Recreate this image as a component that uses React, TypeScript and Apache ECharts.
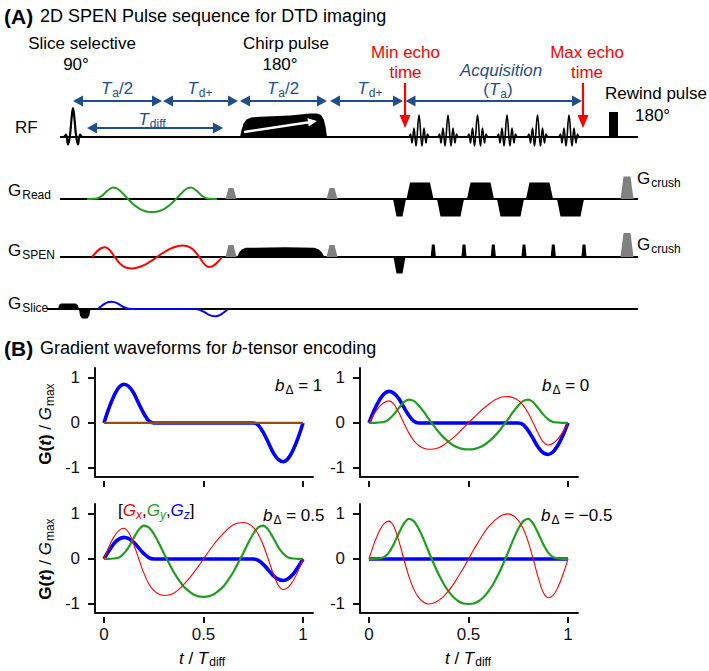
import { useEffect, useRef } from 'react';
import * as echarts from 'echarts';

const FONT = '"Liberation Sans", Arial, Helvetica, sans-serif';
const NAVY = '#1f4e8c';
const RED = '#ff0000';
const GREEN = '#1f9e1f';
const BLUE = '#0000ff';
const GRAY = '#808080';

// ---------- Part B data: t / T_diff and gradient waveforms ----------
const T = [0, 0.025, 0.05, 0.075, 0.1, 0.125, 0.15, 0.175, 0.2, 0.225, 0.25, 0.275, 0.3, 0.325, 0.35, 0.375, 0.4, 0.425, 0.45, 0.475, 0.5, 0.525, 0.55, 0.575, 0.6, 0.625, 0.65, 0.675, 0.7, 0.725, 0.75, 0.775, 0.8, 0.825, 0.85, 0.875, 0.9, 0.925, 0.95, 0.975, 1];

// b_delta = 1
const gxB1 = [0, 0, 0, 0, 0, 0, 0, 0, 0, 0, 0, 0, 0, 0, 0, 0, 0, 0, 0, 0, 0, 0, 0, 0, 0, 0, 0, 0, 0, 0, 0, 0, 0, 0, 0, 0, 0, 0, 0, 0, 0];
const gyB1 = [0, 0, 0, 0, 0, 0, 0, 0, 0, 0, 0, 0, 0, 0, 0, 0, 0, 0, 0, 0, 0, 0, 0, 0, 0, 0, 0, 0, 0, 0, 0, 0, 0, 0, 0, 0, 0, 0, 0, 0, 0];
const gzB1 = [0, 0.33, 0.6, 0.79, 0.86, 0.81, 0.66, 0.43, 0.21, 0.05, 0, 0, 0, 0, 0, 0, 0, 0, 0, 0, 0, 0, 0, 0, 0, 0, 0, 0, 0, 0, 0, -0.05, -0.21, -0.43, -0.66, -0.81, -0.86, -0.79, -0.6, -0.33, 0];

// b_delta = 0
const gxB0 = [0, 0.19, 0.35, 0.45, 0.49, 0.42, 0.23, 0, -0.22, -0.39, -0.5, -0.56, -0.585, -0.58, -0.55, -0.49, -0.41, -0.32, -0.22, -0.11, 0, 0.11, 0.22, 0.32, 0.41, 0.49, 0.55, 0.58, 0.585, 0.56, 0.5, 0.39, 0.22, 0, -0.23, -0.42, -0.49, -0.45, -0.35, -0.19, 0];
const gyB0 = [0, 0, 0.01, 0.02, 0.08, 0.19, 0.33, 0.46, 0.52, 0.49, 0.39, 0.25, 0.09, -0.06, -0.2, -0.32, -0.42, -0.5, -0.55, -0.58, -0.585, -0.58, -0.55, -0.5, -0.42, -0.32, -0.2, -0.06, 0.09, 0.25, 0.39, 0.49, 0.52, 0.46, 0.33, 0.19, 0.08, 0.02, 0.01, 0, 0];
const gzB0 = [0, 0.27, 0.49, 0.64, 0.7, 0.66, 0.54, 0.35, 0.17, 0.04, 0, 0, 0, 0, 0, 0, 0, 0, 0, 0, 0, 0, 0, 0, 0, 0, 0, 0, 0, 0, 0, -0.04, -0.17, -0.35, -0.54, -0.66, -0.7, -0.64, -0.49, -0.27, 0];

// b_delta = 0.5
const gxB05 = [0, 0.27, 0.49, 0.63, 0.68, 0.58, 0.32, 0, -0.31, -0.55, -0.7, -0.78, -0.81, -0.8, -0.76, -0.68, -0.57, -0.45, -0.31, -0.16, 0, 0.16, 0.31, 0.45, 0.57, 0.68, 0.76, 0.8, 0.81, 0.78, 0.7, 0.55, 0.31, 0, -0.32, -0.58, -0.68, -0.63, -0.49, -0.27, 0];
const gyB05 = [0, 0, 0.01, 0.03, 0.12, 0.27, 0.47, 0.65, 0.74, 0.7, 0.56, 0.36, 0.13, -0.08, -0.29, -0.46, -0.61, -0.71, -0.79, -0.83, -0.84, -0.83, -0.79, -0.71, -0.61, -0.46, -0.29, -0.08, 0.13, 0.36, 0.56, 0.7, 0.74, 0.65, 0.47, 0.27, 0.12, 0.03, 0.01, 0, 0];
const gzB05 = [0, 0.18, 0.34, 0.44, 0.48, 0.45, 0.37, 0.24, 0.12, 0.03, 0, 0, 0, 0, 0, 0, 0, 0, 0, 0, 0, 0, 0, 0, 0, 0, 0, 0, 0, 0, 0, -0.03, -0.12, -0.24, -0.37, -0.45, -0.48, -0.44, -0.34, -0.18, 0];

// b_delta = -0.5
const gxBm05 = [0, 0.33, 0.6, 0.78, 0.84, 0.72, 0.4, 0, -0.38, -0.67, -0.86, -0.96, -1.0, -0.98, -0.92, -0.83, -0.71, -0.56, -0.38, -0.2, 0, 0.2, 0.38, 0.56, 0.71, 0.83, 0.92, 0.98, 1.0, 0.96, 0.86, 0.67, 0.38, 0, -0.41, -0.74, -0.86, -0.81, -0.62, -0.34, 0];
const gyBm05 = [0, 0, 0.01, 0.04, 0.14, 0.33, 0.57, 0.78, 0.89, 0.84, 0.67, 0.43, 0.16, -0.1, -0.34, -0.55, -0.72, -0.85, -0.94, -0.99, -1.0, -0.99, -0.94, -0.85, -0.72, -0.55, -0.34, -0.1, 0.16, 0.43, 0.67, 0.84, 0.89, 0.78, 0.57, 0.33, 0.14, 0.04, 0.01, 0, 0];
const gzBm05 = [0, 0, 0, 0, 0, 0, 0, 0, 0, 0, 0, 0, 0, 0, 0, 0, 0, 0, 0, 0, 0, 0, 0, 0, 0, 0, 0, 0, 0, 0, 0, 0, 0, 0, 0, 0, 0, 0, 0, 0, 0];

const bDeltaLabels = ['1', '0', '0.5', '\u22120.5'];
const xTickValues = [0, 0.5, 1];
const yTickValues = [-1, 0, 1];

// ---------- Part A: pulse-sequence schematic (diagram units = page px) ----------
const rowBase = [137, 199, 257, 309]; // RF, G_Read, G_SPEN, G_Slice
const rowStart = [60, 60, 60, 47];
const rowEnd = 638;
const sliceRfCenter = 73;
const sliceRfShape = [[-9, 0], [-7, -2.5], [-5, 7.5], [-3, -2], [-1.5, -18], [0, -29], [1.5, -18], [3, -2], [5, 7.5], [7, -2.5], [9, 0]];
const echoCenters = [419, 448, 477.5, 507, 537.5, 569];
const echoShape = [[-10, 0], [-8.5, -3], [-7, 6], [-5, -9], [-3, 9], [0, -22], [3, 9], [5, -9], [7, 6], [8.5, -3], [10, 0]];
const chirpRf = [[240, 137], [241.5, 130], [243.5, 123.5], [246.5, 119.5], [251, 117.4], [260, 116.8], [290, 115.4], [310, 113.6], [317, 113.4], [321, 115], [323.8, 119.5], [325.6, 127], [327, 137]];
const chirpArrow = [244, 132, 317, 121];
const rewindPulse = [609, 618, 25];
const readLobes = [[393, 406, -17.5], [406.5, 433.5, 16.5], [437, 464, -17.5], [467, 494, 16.5], [497, 524, -17.5], [526, 553, 16.5], [557, 584, -17.5]];
const spenPrephase = [393.5, 405.5, -16.5];
const spenBlips = [433.3, 464, 493.3, 524, 553.3, 584];
const chirpGrad = [[237, 257], [239.5, 252], [242, 249.2], [246, 247.8], [285, 247.2], [314, 247.8], [318.5, 249.2], [321.5, 252], [324.5, 257]];
const crushers = [[225.5, 236.5, 11, 199], [326.5, 337.5, 11, 199], [225.5, 236.5, 12, 257], [326.5, 337.5, 12, 257], [620.5, 633.5, 22.5, 199], [620.5, 633.5, 24, 257]];
const sliceGrad = [[58, 309], [59, 305], [61, 303.4], [75.5, 303.4], [77.8, 305], [79, 309]];
const sliceRefocus = [[79, 309], [80, 315.5], [82, 318.4], [87.5, 318.4], [89.3, 315.5], [90.5, 309]];
const waveStart = { read: 87, spen: 92, slice: 98 };
const waveSpan = 130;
const waveAmp = { read: 13, spen: 11.5, slice: 8.5 };
const spanArrows = [[73, 162, 101], [163, 238, 101], [240, 327, 101], [330, 403, 101], [405.5, 582, 101], [87, 223, 128]];
const echoArrows = [[405, 83, 128], [583, 83, 128]];

function trap(x0: number, x1: number, h: number, ramp: number, base: number) {
  return [[x0, base], [x0 + ramp, base - h], [x1 - ramp, base - h], [x1, base]];
}

function richSet(color = '#000', size = 17) {
  return {
    n: { fontFamily: FONT, fontSize: size, fill: color },
    i: { fontFamily: FONT, fontSize: size, fill: color, fontStyle: 'italic' },
    b: { fontFamily: FONT, fontSize: size, fill: color, fontWeight: 'bold' },
    bi: { fontFamily: FONT, fontSize: size, fill: color, fontWeight: 'bold', fontStyle: 'italic' },
    s: { fontFamily: FONT, fontSize: 12, fill: color, padding: [9, 0, 0, 1] },
    t: { fontFamily: FONT, fontSize: 12, fill: color, padding: [7, 0, 0, 1] },
    rG: { fontFamily: FONT, fontSize: size, fill: RED, fontStyle: 'italic' },
    rs: { fontFamily: FONT, fontSize: 12, fill: RED, fontStyle: 'italic', padding: [9, 0, 0, 0] },
    gG: { fontFamily: FONT, fontSize: size, fill: GREEN, fontStyle: 'italic' },
    gs: { fontFamily: FONT, fontSize: 12, fill: GREEN, fontStyle: 'italic', padding: [9, 0, 0, 0] },
    bG: { fontFamily: FONT, fontSize: size, fill: BLUE, fontStyle: 'italic' },
    bs: { fontFamily: FONT, fontSize: 12, fill: BLUE, fontStyle: 'italic', padding: [9, 0, 0, 0] },
  };
}

function txt(x: number, y: number, text: string, o: any = {}) {
  const align = o.align || 'left';
  return {
    type: 'text',
    x,
    y,
    rotation: o.rotation || 0,
    silent: true,
    z: 100,
    style: {
      text,
      fontFamily: FONT,
      fontSize: o.size || 17,
      fontWeight: o.weight || 'normal',
      fontStyle: o.fontStyle || 'normal',
      fill: o.color || '#000',
      align,
      verticalAlign: 'middle',
      textAlign: align,
      textVerticalAlign: 'middle',
      rich: o.rich || richSet(o.color || '#000', o.size || 17),
    },
  };
}

function buildOption() {
  const grids: any[] = [{ left: 0, top: 0, width: 709, height: 671, containLabel: false, outerBoundsMode: 'none' }];
  const xAxes: any[] = [{ gridIndex: 0, type: 'value', min: 0, max: 709, show: false }];
  const yAxes: any[] = [{ gridIndex: 0, type: 'value', min: 0, max: 671, inverse: true, show: false }];
  const series: any[] = [];

  const lineD = (data: number[][], color: string, width: number, smooth: number = 0, z = 3) => ({
    type: 'line', xAxisIndex: 0, yAxisIndex: 0, data, showSymbol: false, symbol: 'none', smooth,
    lineStyle: { color, width }, silent: true, z,
  });

  // baselines
  rowBase.forEach((b, i) => series.push(lineD([[rowStart[i], b], [rowEnd, b]], '#000', 2, 0, 2)));
  // RF slice-selective sinc
  series.push(lineD(sliceRfShape.map(([dx, dy]) => [sliceRfCenter + dx, rowBase[0] + dy]), '#000', 2.2, 0.4));
  // echoes
  echoCenters.forEach((c) => series.push(lineD(echoShape.map(([dx, dy]) => [c + dx, rowBase[0] + dy]), '#000', 1.6, 0.4)));
  // gradient waveforms in the schematic
  series.push(lineD(T.map((t, i) => [waveStart.read + waveSpan * t, rowBase[1] - waveAmp.read * gyBm05[i]]), GREEN, 2, 0.3, 4));
  series.push(lineD(T.map((t, i) => [waveStart.spen + waveSpan * t, rowBase[2] - waveAmp.spen * gxBm05[i]]), RED, 2, 0.3, 4));
  series.push(lineD(T.map((t, i) => [waveStart.slice + waveSpan * t, rowBase[3] - waveAmp.slice * gzB1[i]]), BLUE, 2, 0.3, 4));

  // filled shapes
  const polys: { pts: number[][]; color: string }[] = [];
  polys.push({ pts: chirpRf, color: '#000' });
  polys.push({ pts: trap(rewindPulse[0], rewindPulse[1], rewindPulse[2], 0, rowBase[0]), color: '#000' });
  readLobes.forEach(([a, b, h]) => polys.push({ pts: trap(a, b, h, 3.5, rowBase[1]), color: '#000' }));
  polys.push({ pts: trap(spenPrephase[0], spenPrephase[1], spenPrephase[2], 3, rowBase[2]), color: '#000' });
  spenBlips.forEach((c) => polys.push({ pts: trap(c - 2.6, c + 2.6, 12.5, 1.2, rowBase[2]), color: '#000' }));
  polys.push({ pts: chirpGrad, color: '#000' });
  crushers.forEach(([a, b, h, base]) => polys.push({ pts: trap(a, b, h, 3, base), color: GRAY }));
  polys.push({ pts: sliceGrad, color: '#000' });
  polys.push({ pts: sliceRefocus, color: '#000' });

  series.push({
    type: 'custom', xAxisIndex: 0, yAxisIndex: 0, silent: true, z: 3, clip: false,
    data: polys.map((p) => [p.pts[0][0], p.pts[0][1]]),
    renderItem: (params: any, api: any) => {
      const p = polys[params.dataIndex];
      return { type: 'polygon', shape: { points: p.pts.map((q) => api.coord(q)) }, style: { fill: p.color } };
    },
  });

  // double-headed navy arrows
  series.push({
    type: 'custom', xAxisIndex: 0, yAxisIndex: 0, silent: true, z: 5, clip: false,
    data: spanArrows.map((a) => [a[0], a[2]]),
    renderItem: (params: any, api: any) => {
      const [x1, x2, y] = spanArrows[params.dataIndex];
      const a = api.coord([x1, y]);
      const b = api.coord([x2, y]);
      const L = 10, W = 5.5;
      return {
        type: 'group',
        children: [
          { type: 'line', shape: { x1: a[0] + L - 1, y1: a[1], x2: b[0] - L + 1, y2: b[1] }, style: { stroke: NAVY, lineWidth: 2.2 } },
          { type: 'polygon', shape: { points: [a, [a[0] + L, a[1] - W], [a[0] + L, a[1] + W]] }, style: { fill: NAVY } },
          { type: 'polygon', shape: { points: [b, [b[0] - L, b[1] - W], [b[0] - L, b[1] + W]] }, style: { fill: NAVY } },
        ],
      };
    },
  });

  // red echo-time arrows
  series.push({
    type: 'custom', xAxisIndex: 0, yAxisIndex: 0, silent: true, z: 6, clip: false,
    data: echoArrows.map((a) => [a[0], a[1]]),
    renderItem: (params: any, api: any) => {
      const [x, y1, y2] = echoArrows[params.dataIndex];
      const a = api.coord([x, y1]);
      const b = api.coord([x, y2]);
      const L = 13, W = 5.5;
      return {
        type: 'group',
        children: [
          { type: 'line', shape: { x1: a[0], y1: a[1], x2: b[0], y2: b[1] - L + 1 }, style: { stroke: RED, lineWidth: 2.2 } },
          { type: 'polygon', shape: { points: [b, [b[0] - W, b[1] - L], [b[0] + W, b[1] - L]] }, style: { fill: RED } },
        ],
      };
    },
  });

  // white arrow inside chirp pulse
  series.push({
    type: 'custom', xAxisIndex: 0, yAxisIndex: 0, silent: true, z: 7, clip: false,
    data: [[chirpArrow[0], chirpArrow[1]]],
    renderItem: (params: any, api: any) => {
      const a = api.coord([chirpArrow[0], chirpArrow[1]]);
      const b = api.coord([chirpArrow[2], chirpArrow[3]]);
      const dx = b[0] - a[0], dy = b[1] - a[1];
      const len = Math.sqrt(dx * dx + dy * dy);
      const ux = dx / len, uy = dy / len;
      const L = 9, W = 4.2;
      const cx = b[0] - ux * L, cy = b[1] - uy * L;
      return {
        type: 'group',
        children: [
          { type: 'line', shape: { x1: a[0], y1: a[1], x2: cx + ux, y2: cy + uy }, style: { stroke: '#fff', lineWidth: 2.4 } },
          { type: 'polygon', shape: { points: [b, [cx - uy * W, cy + ux * W], [cx + uy * W, cy - ux * W]] }, style: { fill: '#fff' } },
        ],
      };
    },
  });

  // ---------- Part B panels ----------
  const panels = [
    { left: 95, top: 368, data: [gxB1, gyB1, gzB1], xLabels: false, lx: 275, ly: 385 },
    { left: 360, top: 368, data: [gxB0, gyB0, gzB0], xLabels: false, lx: 542, ly: 385 },
    { left: 95, top: 504, data: [gxB05, gyB05, gzB05], xLabels: true, lx: 263, ly: 515 },
    { left: 360, top: 504, data: [gxBm05, gyBm05, gzBm05], xLabels: true, lx: 541, ly: 515 },
  ];
  const axisColor = '#111';
  panels.forEach((p, k) => {
    grids.push({ left: p.left, top: p.top, width: 218, height: 109, containLabel: false, outerBoundsMode: 'none' });
    const g = k + 1;
    xAxes.push({
      gridIndex: g, type: 'value', min: -0.045, max: 1.05, position: 'bottom',
      axisLine: { show: true, onZero: false, lineStyle: { color: axisColor, width: 2 } },
      axisTick: { show: false }, axisLabel: { show: false }, splitLine: { show: false },
    });
    xAxes.push({
      gridIndex: g, type: 'value', min: -0.045, max: 1.05, position: 'bottom', offset: 4,
      axisLine: { show: false, onZero: false },
      axisTick: { show: true, length: 6, customValues: xTickValues, lineStyle: { color: axisColor, width: 2 } },
      axisLabel: {
        show: p.xLabels, customValues: xTickValues, fontSize: 17, fontFamily: FONT, color: axisColor, margin: 9,
        formatter: (v: number) => String(v),
      },
      splitLine: { show: false },
    });
    yAxes.push({
      gridIndex: g, type: 'value', min: -1.2, max: 1.22, position: 'left',
      axisLine: { show: true, onZero: false, lineStyle: { color: axisColor, width: 2 } },
      axisTick: { show: true, length: 7, customValues: yTickValues, lineStyle: { color: axisColor, width: 2 } },
      axisLabel: { customValues: yTickValues, fontSize: 17, fontFamily: FONT, color: axisColor, margin: 15, formatter: (v: number) => String(v) },
      splitLine: { show: false },
    });
    const xi = 1 + 2 * k;
    const yi = 1 + k;
    const [gx, gy, gz] = p.data;
    const mk = (arr: number[], color: string, width: number, z: number) => ({
      type: 'line', xAxisIndex: xi, yAxisIndex: yi, data: T.map((t, i) => [t, arr[i]]), showSymbol: false,
      symbol: 'none', smooth: 0.3, lineStyle: { color, width }, silent: true, z,
    });
    series.push(mk(gz, BLUE, 3.6, 3));
    series.push(mk(gy, GREEN, 2.2, 4));
    series.push(mk(gx, RED, 1.1, 5));
  });

  // ---------- texts ----------
  const navy = richSet(NAVY, 17);
  const texts: any[] = [
    txt(4, 16, '(A)', { size: 21, weight: 'bold' }),
    txt(40, 16, '2D SPEN Pulse sequence for DTD imaging', { size: 18 }),
    txt(82, 43, 'Slice selective', { align: 'center' }),
    txt(76, 64, '90°', { align: 'center' }),
    txt(286, 43, 'Chirp pulse', { align: 'center' }),
    txt(280, 64, '180°', { align: 'center' }),
    txt(117, 88, '{i|T}{s|a}{n|/2}', { align: 'center', color: NAVY, rich: navy }),
    txt(200, 88, '{i|T}{s|d+}', { align: 'center', color: NAVY, rich: navy }),
    txt(283, 88, '{i|T}{s|a}{n|/2}', { align: 'center', color: NAVY, rich: navy }),
    txt(370, 88, '{i|T}{s|d+}', { align: 'center', color: NAVY, rich: navy }),
    txt(152, 119, '{i|T}{s|diff}', { align: 'center', color: NAVY, rich: navy }),
    txt(501, 70, '{i|Acquisition}', { align: 'center', color: NAVY, rich: navy }),
    txt(498, 89, '{n|(}{i|T}{s|a}{n|)}', { align: 'center', color: NAVY, rich: navy }),
    txt(405.5, 52, 'Min echo', { align: 'center', color: RED }),
    txt(405.5, 72, 'time', { align: 'center', color: RED }),
    txt(587, 52, 'Max echo', { align: 'center', color: RED }),
    txt(587, 72, 'time', { align: 'center', color: RED }),
    txt(15, 127, 'RF'),
    txt(605, 93, 'Rewind pulse'),
    txt(635, 115, '180°'),
    txt(8, 190, '{n|G}{s|Read}'),
    txt(8, 250, '{n|G}{s|SPEN}'),
    txt(8, 303, '{n|G}{s|Slice}'),
    txt(637, 178, '{n|G}{s|crush}'),
    txt(637, 244, '{n|G}{s|crush}'),
    txt(4, 348, '(B)', { size: 21, weight: 'bold' }),
    txt(40, 348, '{n|Gradient waveforms for }{i|b}{n|-tensor encoding}', { size: 18 }),
    txt(118, 510, '{n|[}{rG|G}{rs|x}{n|,}{gG|G}{gs|y}{n|,}{bG|G}{bs|z}{n|]}'),
    txt(202, 658, '{i|t}{n| / }{i|T}{t|diff}', { align: 'center' }),
    txt(468, 658, '{i|t}{n| / }{i|T}{t|diff}', { align: 'center' }),
    txt(45, 424, '{b|G(}{bi|t}{b|)}{n| / }{i|G}{s|max}', { align: 'center', rotation: Math.PI / 2 }),
    txt(45, 559, '{b|G(}{bi|t}{b|)}{n| / }{i|G}{s|max}', { align: 'center', rotation: Math.PI / 2 }),
  ];
  panels.forEach((p, k) => {
    texts.push(txt(p.lx, p.ly, `{i|b}{s|\u0394}{n| = ${bDeltaLabels[k]}}`));
  });

  return {
    animation: false,
    backgroundColor: '#fff',
    textStyle: { fontFamily: FONT },
    grid: grids,
    xAxis: xAxes,
    yAxis: yAxes,
    series,
    graphic: { elements: texts },
  };
}

export default function App() {
  const ref = useRef<HTMLDivElement>(null);
  useEffect(() => {
    const chart = echarts.init(ref.current!, null, { renderer: 'svg' });
    chart.setOption(buildOption() as any);
    return () => chart.dispose();
  }, []);
  return (
    <div
      ref={ref}
      style={{ position: 'fixed', left: 0, top: 0, width: 709, height: 671, background: '#fff' }}
    />
  );
}
